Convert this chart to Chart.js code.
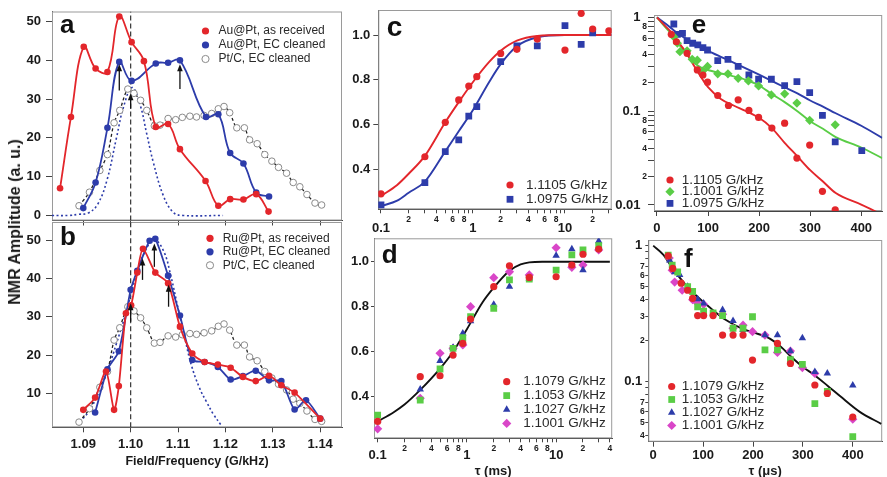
<!DOCTYPE html>
<html>
<head>
<meta charset="utf-8">
<script src="https://cdn.jsdelivr.net/npm/chart.js@4"></script>
<style>
  body { margin: 0; width: 887px; height: 477px; position: relative; overflow: hidden; background: #fff; }
  canvas { position: absolute; }
  #ytitle {
    position: absolute; left: 15px; top: 222px; white-space: nowrap; color: #1a1a1a;
    font: bold 16px "Liberation Sans", Arial, sans-serif;
    transform: translate(-50%, -50%) rotate(-90deg);
  }
</style>
</head>
<body>
<canvas id="pa"></canvas>
<canvas id="pb"></canvas>
<canvas id="pc"></canvas>
<canvas id="pd"></canvas>
<canvas id="pe"></canvas>
<canvas id="pf"></canvas>
<div id="ytitle">NMR Amplitude (a. u.)</div>
<script>
// ---- panel a : Au@Pt spectra ----
const auRecField = [1.0851, 1.0874, 1.0901, 1.0926, 1.0951, 1.0976, 1.1002, 1.1028, 1.1053, 1.1079, 1.1104, 1.1158, 1.1185, 1.1210, 1.1238, 1.1265, 1.1291];
const auRecAmp   = [7.0, 25.4, 43.5, 37.9, 37.0, 51.3, 44.7, 39.8, 22.8, 23.6, 17.1, 8.9, 2.5, 4.2, 4.1, 5.5, 1.0];
const auEcField  = [1.0900, 1.0926, 1.0951, 1.0976, 1.1002, 1.1053, 1.1079, 1.1104, 1.1159, 1.1185, 1.1210, 1.1238, 1.1265, 1.1292];
const auEcAmp    = [1.9, 8.5, 22.6, 39.6, 34.7, 39.2, 39.4, 40.0, 25.4, 26.1, 16.1, 13.4, 5.9, 4.9];

// Pt/C reference (shown in a and b)
const ptcField = [1.0891, 1.0913, 1.0935, 1.0951, 1.0965, 1.0977, 1.0994, 1.1007, 1.1021, 1.1034, 1.1050, 1.1062, 1.1079, 1.1095, 1.1109, 1.1125, 1.1139, 1.1155, 1.1171, 1.1185, 1.1197, 1.1209, 1.1224, 1.1240, 1.1251, 1.1267, 1.1283, 1.1298, 1.1312, 1.1329, 1.1343, 1.1357, 1.1372, 1.1389, 1.1403];
const ptcAmp   = [2.5, 6.0, 11.6, 15.7, 23.9, 27.1, 32.6, 31.5, 29.7, 27.1, 23.1, 23.3, 25.0, 24.7, 25.3, 25.6, 25.4, 25.8, 26.3, 27.5, 28.1, 26.5, 22.6, 22.6, 19.5, 18.5, 15.7, 14.0, 12.4, 10.9, 8.5, 7.4, 5.4, 3.2, 2.7];

// dotted blue curves
const gaussAField = [1.0834, 1.0870, 1.0890, 1.0910, 1.0930, 1.0950, 1.0970, 1.0985, 1.1003, 1.1020, 1.1034, 1.1048, 1.1069, 1.1090, 1.1110, 1.1195];
const gaussAAmp   = [0, 0, 0.3, 0.6, 2.8, 9.1, 20, 28, 33, 28.5, 21, 13.6, 5.1, 0.8, 0, 0];
const gaussBField = [1.0893, 1.0910, 1.0930, 1.0950, 1.0970, 1.0990, 1.1010, 1.1030, 1.1050, 1.1070, 1.1085, 1.1100, 1.1115, 1.1128, 1.1145, 1.1160, 1.1175, 1.1191];
const gaussBAmp   = [2.6, 5, 9.5, 15.5, 23, 31, 40, 47, 50, 47, 40.5, 32.2, 24, 17.4, 11.5, 7.8, 4.5, 1.7];

// ---- panel b : Ru@Pt spectra ----
const ruRecField = [1.0900, 1.0925, 1.0948, 1.0965, 1.0975, 1.0990, 1.1001, 1.1014, 1.1026, 1.1052, 1.1079, 1.1104, 1.1130, 1.1156, 1.1184, 1.1211, 1.1237, 1.1264, 1.1292, 1.1318, 1.1346, 1.1400];
const ruRecAmp   = [5.7, 8.9, 15.7, 5.7, 11.9, 30.9, 33.0, 41.5, 47.7, 41.5, 38.7, 27.4, 20.4, 18.2, 17.5, 16.7, 14.3, 13.2, 14.6, 12.1, 10.2, 3.4];
const ruEcField  = [1.0925, 1.0951, 1.0975, 1.1000, 1.1014, 1.1040, 1.1052, 1.1079, 1.1104, 1.1130, 1.1156, 1.1184, 1.1211, 1.1237, 1.1264, 1.1292, 1.1318, 1.1346, 1.1370, 1.1400];
const ruEcAmp    = [5.0, 16.3, 21.0, 37.0, 42.0, 49.8, 50.3, 40.7, 30.3, 18.7, 18.2, 16.9, 13.6, 14.5, 15.9, 13.4, 13.2, 5.8, 8.2, 3.4];

const refField = 1.10;
// arrows: [field, from, to]
const arrowsA = [[1.0976, 32.2, 39.0], [1.1000, 27.5, 31.5], [1.1104, 32.6, 39.0]];
const arrowsB = [[1.1000, 28.7, 33.5], [1.1025, 39.6, 45.2], [1.1050, 43.0, 49.1], [1.1080, 32.6, 38.3]];

// ---- panel c : recovery, ms ----
const cRedTau  = [0.1, 0.3, 0.5, 0.7, 0.9, 1.1, 2, 3, 5, 10, 15, 20, 30];
const cRed     = [0.290, 0.456, 0.610, 0.710, 0.772, 0.814, 0.918, 0.936, 0.982, 0.933, 1.097, 1.027, 1.019];
const cBlueTau = [0.1, 0.3, 0.5, 0.7, 0.9, 1.1, 2, 3, 5, 10, 15, 20];
const cBlue    = [0.241, 0.340, 0.479, 0.531, 0.638, 0.680, 0.881, 0.952, 0.952, 1.042, 0.958, 1.010];
const cFitTau  = [0.1, 0.15, 0.2, 0.3, 0.5, 0.7, 1, 1.5, 2, 3, 5, 10, 32];
const cFitRed  = [0.28, 0.33, 0.38, 0.46, 0.61, 0.70, 0.79, 0.88, 0.93, 0.975, 0.996, 1.0, 1.0];
const cFitBlue = [0.235, 0.26, 0.295, 0.345, 0.48, 0.57, 0.665, 0.79, 0.87, 0.95, 0.99, 1.0, 1.0];

// ---- panel d ----
const dTau   = [0.1, 0.3, 0.5, 0.7, 0.9, 1.1, 2, 3, 5, 10, 15, 20, 30];
const dRed   = [0.29, 0.489, 0.493, 0.585, 0.637, 0.745, 0.889, 0.982, 0.93, 0.933, 0.985, 1.033, 1.056];
const dGreen = [0.318, 0.385, 0.523, 0.615, 0.662, 0.756, 0.793, 0.919, 0.923, 0.963, 1.030, 1.052, 1.071];
const dBlue  = [0.295, 0.433, 0.559, 0.618, 0.682, 0.736, 0.810, 0.889, 0.926, 1.027, 1.056, 0.963, 1.092];
const dMag   = [0.257, 0.393, 0.593, 0.615, 0.630, 0.800, 0.929, 0.955, 0.941, 1.062, 0.975, 0.985, 1.052];
const dFitTau = [0.1, 0.15, 0.2, 0.3, 0.5, 0.7, 1, 1.5, 2, 3, 4, 5, 7, 10, 20, 40];
const dFit    = [0.29, 0.33, 0.365, 0.43, 0.525, 0.60, 0.70, 0.82, 0.885, 0.96, 0.988, 0.997, 1.0, 1.0, 1.0, 1.0];

// ---- panel e : decay, us ----
const eRedT   = [28, 38, 59, 79, 90, 99, 119, 140, 159, 180, 199, 225, 250, 274, 299, 324, 349];
const eRed    = [0.66, 0.55, 0.414, 0.275, 0.243, 0.204, 0.147, 0.115, 0.132, 0.102, 0.0857, 0.066, 0.0745, 0.0316, 0.0435, 0.0140, 0.0089];
const eGreenT = [33, 40, 45, 59, 69, 79, 90, 99, 119, 139, 159, 179, 199, 224, 250, 274, 299, 349];
const eGreen  = [0.62, 0.53, 0.43, 0.44, 0.357, 0.35, 0.269, 0.30, 0.25, 0.25, 0.224, 0.21, 0.186, 0.149, 0.153, 0.122, 0.080, 0.0716];
const eBlueT  = [33, 40, 50, 59, 70, 80, 90, 99, 119, 139, 159, 180, 199, 224, 250, 274, 299, 324, 349, 401];
const eBlue   = [0.85, 0.66, 0.676, 0.565, 0.53, 0.508, 0.476, 0.449, 0.346, 0.357, 0.30, 0.243, 0.219, 0.219, 0.187, 0.207, 0.158, 0.09, 0.047, 0.038];
const eFitT     = [0, 15, 30, 45, 60, 75, 90, 100, 125, 150, 175, 200, 225, 250, 275, 300, 325, 350, 400, 441];
const eFitRed   = [1, 0.82, 0.675, 0.52, 0.40, 0.29, 0.215, 0.18, 0.135, 0.115, 0.10, 0.085, 0.066, 0.046, 0.033, 0.0235, 0.0178, 0.0134, 0.0101, 0.0079];
const eFitGreen = [1, 0.8, 0.65, 0.5, 0.39, 0.32, 0.285, 0.275, 0.252, 0.235, 0.215, 0.188, 0.152, 0.125, 0.1, 0.078, 0.065, 0.053, 0.041, 0.0316];
const eFitBlue  = [1, 0.87, 0.75, 0.65, 0.58, 0.52, 0.47, 0.44, 0.38, 0.33, 0.285, 0.245, 0.21, 0.18, 0.155, 0.13, 0.112, 0.095, 0.07, 0.052];

// ---- panel f ----
const fRedT   = [30, 39, 56, 69, 79, 89, 101, 120, 139, 160, 180, 199, 249, 275, 324, 349, 400];
const fRed    = [0.84, 0.68, 0.53, 0.47, 0.41, 0.306, 0.306, 0.306, 0.22, 0.22, 0.22, 0.144, 0.191, 0.136, 0.0945, 0.082, 0.055];
const fGreenT = [30, 38, 49, 69, 79, 89, 101, 120, 139, 160, 180, 199, 224, 249, 275, 299, 324, 349, 400];
const fGreen  = [0.85, 0.72, 0.64, 0.5, 0.46, 0.355, 0.33, 0.32, 0.306, 0.247, 0.247, 0.30, 0.171, 0.171, 0.145, 0.134, 0.069, 0.085, 0.0395];
const fBlueT  = [33, 43, 53, 69, 89, 101, 139, 160, 180, 224, 249, 275, 299, 324, 349, 400];
const fBlue   = [0.78, 0.64, 0.61, 0.5, 0.405, 0.377, 0.337, 0.28, 0.24, 0.22, 0.22, 0.168, 0.209, 0.118, 0.115, 0.094];
const fMagT   = [32, 38, 43, 58, 79, 89, 101, 139, 160, 180, 199, 224, 249, 275, 299, 324, 400];
const fMag    = [0.81, 0.66, 0.54, 0.47, 0.40, 0.377, 0.37, 0.313, 0.247, 0.26, 0.233, 0.22, 0.164, 0.168, 0.127, 0.115, 0.053];
const fFitT   = [0, 20, 39, 66, 92, 118, 145, 178, 200, 225, 243, 260, 276, 299, 323, 350, 375, 414, 457];
const fFit    = [1, 0.86, 0.68, 0.51, 0.41, 0.34, 0.285, 0.245, 0.23, 0.215, 0.197, 0.175, 0.153, 0.129, 0.112, 0.093, 0.078, 0.06, 0.049];

// axis ticks
const fieldTicks = [1.09, 1.10, 1.11, 1.12, 1.13, 1.14];
const ampTicksA = [0, 10, 20, 30, 40, 50];
const ampTicksB = [10, 20, 30, 40, 50];
const fracTicks = [0.4, 0.6, 0.8, 1.0];
const usTicks = [0, 100, 200, 300, 400];

const FONT = '"Liberation Sans", Arial, Helvetica, sans-serif';
const RED = '#e3262b', BLUE = '#2d3caa', GREEN = '#5acd46', MAG = '#d946c8', GRAY = '#8a8a8a', INK = '#1a1a1a';
const MARK_R = { circle: 3.6, rect: 4.8, rectRot: 4.6, triangle: 4.3 };
Chart.defaults.font.family = FONT;
Chart.defaults.color = INK;

const pts = (xs, ys) => xs.map((x, i) => ({x, y: ys[i]}));
const mant = v => Math.round(v / Math.pow(10, Math.floor(Math.log10(v) + 1e-9)));
function logTicks(e0, e1) {
  const out = [];
  for (let e = e0; e <= e1; e++) for (let m = 1; m <= 9; m++) out.push(Number((m * Math.pow(10, e)).toPrecision(2)));
  return out;
}

// small decoration plugin: frame, panel letter, inset legend, arrows
const deco = {
  id: 'deco',
  beforeDatasetsDraw(chart) {
    const a = chart.chartArea, ctx = chart.ctx;
    ctx.save();
    ctx.strokeStyle = '#9a9a9a';
    ctx.lineWidth = 1;
    ctx.strokeRect(a.left + 0.5, a.top + 0.5, a.right - a.left - 1, a.bottom - a.top - 1);
    ctx.restore();
  },
  afterDraw(chart, args, o) {
    const ctx = chart.ctx, ox = o.at[0], oy = o.at[1];
    const xs = chart.scales.x, ys = chart.scales.y;
    ctx.save();
    ctx.fillStyle = '#111'; ctx.strokeStyle = '#111'; ctx.lineWidth = 1.3;
    (o.arrows || []).forEach(([xv, y0, y1]) => {
      const px = xs.getPixelForValue(xv), p0 = ys.getPixelForValue(y0), p1 = ys.getPixelForValue(y1);
      ctx.beginPath(); ctx.moveTo(px, p0); ctx.lineTo(px, p1 + 4); ctx.stroke();
      ctx.beginPath(); ctx.moveTo(px, p1); ctx.lineTo(px - 2.8, p1 + 7); ctx.lineTo(px + 2.8, p1 + 7); ctx.closePath(); ctx.fill();
    });
    if (o.letter) {
      ctx.font = `bold ${o.letter[3] || 26}px ${FONT}`;
      ctx.textBaseline = 'alphabetic';
      ctx.fillText(o.letter[0], o.letter[1] - ox, o.letter[2] - oy);
    }
    if (o.legend) {
      const L = o.legend;
      ctx.font = `${L.size}px ${FONT}`;
      ctx.textBaseline = 'middle';
      L.items.forEach((it, i) => {
        const y = L.y0 + i * L.dy - oy;
        ctx.fillStyle = it.open ? '#fff' : it.color;
        ctx.strokeStyle = it.color;
        ctx.lineWidth = 1;
        Chart.helpers.drawPoint(ctx, {pointStyle: it.style, radius: it.r || MARK_R[it.style], borderWidth: it.open ? 1 : 0, rotation: 0}, L.mx - ox, y);
        ctx.fillStyle = '#2a2a2a';
        ctx.fillText(it.label, L.tx - ox, y);
      });
    }
    ctx.restore();
  }
};
Chart.register(deco);

function axis(o) {
  return {
    type: o.log ? 'logarithmic' : 'linear',
    position: o.pos,
    min: o.min, max: o.max,
    afterBuildTicks: s => { s.ticks = o.ticks.map(v => ({value: v})); },
    grid: { display: true, drawOnChartArea: false, drawTicks: true, tickLength: o.tl, color: '#444', lineWidth: 1 },
    border: { display: true, color: '#444', width: 1 },
    ticks: {
      display: o.show !== false, autoSkip: false, maxRotation: 0, minRotation: 0,
      padding: o.pad, color: INK,
      font: o.font || { size: 13, weight: 'bold', lineHeight: 1 },
      callback: o.fmt || (v => String(v))
    },
    title: o.title
      ? { display: true, text: o.title, color: INK, font: { size: o.titleSize || 13, weight: 'bold', lineHeight: 1.2 }, padding: 0 }
      : { display: false }
  };
}

// log-axis labels: bold decade, small digits between
const logXFmt = v => { const m = mant(v); if (m === 1) return ['', String(v)]; return [2, 4, 6, 8].includes(m) ? String(m) : ''; };
const logXFont = lh => c => (c.tick && mant(c.tick.value) === 1)
  ? { size: 13, weight: 'bold', lineHeight: lh } : { size: 8.5, weight: 'bold', lineHeight: 1.2 };
const logYFmt = (set, sp) => v => { const m = mant(v); if (m === 1) return String(v) + sp; return set.includes(m) ? String(m) : ''; };
const logYFont = c => (c.tick && mant(c.tick.value) === 1)
  ? { size: 13, weight: 'bold', lineHeight: 1 } : { size: 8.5, weight: 'bold', lineHeight: 1 };

function panel(id, box, area, scales, datasets, decoOpts) {
  const [cl, ct, cw, ch] = box;
  const [al, at, ar, ab] = area;
  const cv = document.getElementById(id);
  cv.width = cw; cv.height = ch;
  cv.style.left = cl + 'px'; cv.style.top = ct + 'px';
  scales.x.afterFit = s => { s.height = ct + ch - ab; };
  scales.y.afterFit = s => { s.width = al - cl; };
  return new Chart(cv, {
    type: 'scatter',
    data: { datasets },
    options: {
      responsive: false, animation: false, devicePixelRatio: 1,
      layout: { padding: { left: 0, top: at - ct, right: cl + cw - ar, bottom: 0 } },
      scales,
      plugins: { legend: { display: false }, tooltip: { enabled: false }, deco: Object.assign({ at: [cl, ct] }, decoOpts) }
    }
  });
}

const spline = (data, color, t) => ({ data, showLine: true, borderColor: color, borderWidth: 1.8, tension: t,
  pointRadius: 3.3, pointBackgroundColor: color, pointBorderWidth: 0 });
const ptcSet = () => ({ data: pts(ptcField, ptcAmp), showLine: true, borderColor: '#222', borderDash: [3, 2.5], borderWidth: 1.3,
  tension: 0.3, pointRadius: 3.3, pointBackgroundColor: '#fff', pointBorderColor: GRAY, pointBorderWidth: 1 });
const dotted = data => ({ data, showLine: true, borderColor: BLUE, borderDash: [2, 2.5], borderWidth: 1.6, tension: 0.4, pointRadius: 0 });
const vline = (lo, hi) => ({ data: [{x: refField, y: lo}, {x: refField, y: hi}], showLine: true, borderColor: '#333',
  borderDash: [5, 3], borderWidth: 1.2, pointRadius: 0 });
const marks = (data, color, style) => ({ data, showLine: false, pointStyle: style, pointRadius: MARK_R[style],
  pointBackgroundColor: color, pointBorderWidth: 0 });
const fit = (data, color) => ({ data, showLine: true, borderColor: color, borderWidth: 1.9,
  cubicInterpolationMode: 'monotone', pointRadius: 0 });

// ---- a ----
const A_Y = [-1.3, 52.6], B_Y = [1.15, 54.7], F_X = [1.0834, 1.1446];
panel('pa', [0, 0, 350, 232], [52, 10, 342, 222], {
  x: axis({ pos: 'bottom', min: F_X[0], max: F_X[1], ticks: fieldTicks, tl: 5, pad: 2, show: false }),
  y: axis({ pos: 'left', min: A_Y[0], max: A_Y[1], ticks: ampTicksA, tl: 6, pad: 5 })
}, [
  spline(pts(auRecField, auRecAmp), RED, 0.4),
  spline(pts(auEcField, auEcAmp), BLUE, 0.4),
  ptcSet(),
  dotted(pts(gaussAField, gaussAAmp)),
  vline(A_Y[0], A_Y[1])
], {
  letter: ['a', 60, 33],
  arrows: arrowsA,
  legend: { mx: 205.5, tx: 218.5, y0: 31, dy: 14, size: 12, items: [
    { label: 'Au@Pt, as received', color: RED, style: 'circle' },
    { label: 'Au@Pt, EC cleaned', color: BLUE, style: 'circle' },
    { label: 'Pt/C, EC cleaned', color: GRAY, style: 'circle', open: true }
  ] }
});

// ---- b ----
panel('pb', [0, 200, 350, 269], [52, 222, 342, 427.3], {
  x: axis({ pos: 'bottom', min: F_X[0], max: F_X[1], ticks: fieldTicks, tl: 5, pad: 6, fmt: v => v.toFixed(2),
            title: 'Field/Frequency (G/kHz)', titleSize: 12.5 }),
  y: axis({ pos: 'left', min: B_Y[0], max: B_Y[1], ticks: ampTicksB, tl: 6, pad: 5 })
}, [
  spline(pts(ruRecField, ruRecAmp), RED, 0.25),
  spline(pts(ruEcField, ruEcAmp), BLUE, 0.25),
  ptcSet(),
  dotted(pts(gaussBField, gaussBAmp)),
  vline(B_Y[0], B_Y[1])
], {
  letter: ['b', 60, 245],
  arrows: arrowsB,
  legend: { mx: 210, tx: 222.7, y0: 238.3, dy: 13.5, size: 12, items: [
    { label: 'Ru@Pt, as received', color: RED, style: 'circle' },
    { label: 'Ru@Pt, EC cleaned', color: BLUE, style: 'circle' },
    { label: 'Pt/C, EC cleaned', color: GRAY, style: 'circle', open: true }
  ] }
});

// ---- c ----
panel('pc', [345, 0, 272, 240], [378.3, 10, 611.7, 209.3], {
  x: axis({ pos: 'bottom', log: true, min: 0.0935, max: 32.2, ticks: logTicks(-1, 1).filter(v => v <= 32), tl: 4, pad: 1,
            fmt: logXFmt, font: logXFont(0.7) }),
  y: axis({ pos: 'left', min: 0.221, max: 1.112, ticks: fracTicks, tl: 5, pad: 3, fmt: v => v.toFixed(1) })
}, [
  marks(pts(cRedTau, cRed), RED, 'circle'),
  marks(pts(cBlueTau, cBlue), BLUE, 'rect'),
  fit(pts(cFitTau, cFitRed), RED),
  fit(pts(cFitTau, cFitBlue), BLUE)
], {
  letter: ['c', 386.7, 36, 28],
  legend: { mx: 510, tx: 526, y0: 185, dy: 14.3, size: 13.5, items: [
    { label: '1.1105 G/kHz', color: RED, style: 'circle' },
    { label: '1.0975 G/kHz', color: BLUE, style: 'rect' }
  ] }
});

// ---- d ----
panel('pd', [345, 225, 272, 254], [374, 238.3, 615, 438.3], {
  x: axis({ pos: 'bottom', log: true, min: 0.091, max: 42.5, ticks: logTicks(-1, 1).filter(v => v <= 40), tl: 4, pad: 1,
            fmt: logXFmt, font: logXFont(0.6), title: '\u03c4 (ms)' }),
  y: axis({ pos: 'left', min: 0.215, max: 1.104, ticks: fracTicks, tl: 3, pad: 2, fmt: v => v.toFixed(1) })
}, [
  marks(pts(dTau, dRed), RED, 'circle'),
  marks(pts(dTau, dGreen), GREEN, 'rect'),
  marks(pts(dTau, dBlue), BLUE, 'triangle'),
  marks(pts(dTau, dMag), MAG, 'rectRot'),
  fit(pts(dFitTau, dFit), '#111')
], {
  letter: ['d', 381.7, 262.7],
  legend: { mx: 506.7, tx: 523.3, y0: 381.7, dy: 13.9, size: 13.5, items: [
    { label: '1.1079 G/kHz', color: RED, style: 'circle' },
    { label: '1.1053 G/kHz', color: GREEN, style: 'rect' },
    { label: '1.1027 G/kHz', color: BLUE, style: 'triangle' },
    { label: '1.1001 G/kHz', color: MAG, style: 'rectRot' }
  ] }
});

// ---- e ----
panel('pe', [612, 0, 275, 240], [654, 15, 885, 211], {
  x: axis({ pos: 'bottom', min: -5.8, max: 441, ticks: usTicks, tl: 5, pad: 6 }),
  y: axis({ pos: 'left', log: true, min: 0.00863, max: 1.06, ticks: logTicks(-2, -1).concat([1]), tl: 6, pad: 1,
            fmt: logYFmt([2, 4, 6, 8], '\u2002'), font: logYFont })
}, [
  marks(pts(eRedT, eRed), RED, 'circle'),
  marks(pts(eGreenT, eGreen), GREEN, 'rectRot'),
  marks(pts(eBlueT, eBlue), BLUE, 'rect'),
  fit(pts(eFitT, eFitRed), RED),
  fit(pts(eFitT, eFitGreen), GREEN),
  fit(pts(eFitT, eFitBlue), BLUE)
], {
  letter: ['e', 691.7, 33.3],
  legend: { mx: 670, tx: 681.7, y0: 180, dy: 11.7, size: 13.5, items: [
    { label: '1.1105 G/kHz', color: RED, style: 'circle' },
    { label: '1.1001 G/kHz', color: GREEN, style: 'rectRot' },
    { label: '1.0975 G/kHz', color: BLUE, style: 'rect' }
  ] }
});

// ---- f ----
panel('pf', [612, 228, 275, 251], [648.3, 240, 886, 441.7], {
  x: axis({ pos: 'bottom', min: -9.9, max: 459, ticks: usTicks, tl: 5, pad: 2, title: '\u03c4 (\u03bcs)' }),
  y: axis({ pos: 'left', log: true, min: 0.0362, max: 1.10, ticks: logTicks(-2, -1).filter(v => v >= 0.04).concat([1]), tl: 3, pad: 0.5,
            fmt: logYFmt([2, 3, 4, 5, 6, 7], '\u2009'), font: logYFont })
}, [
  marks(pts(fRedT, fRed), RED, 'circle'),
  marks(pts(fGreenT, fGreen), GREEN, 'rect'),
  marks(pts(fBlueT, fBlue), BLUE, 'triangle'),
  marks(pts(fMagT, fMag), MAG, 'rectRot'),
  fit(pts(fFitT, fFit), '#111')
], {
  letter: ['f', 684, 266.7],
  legend: { mx: 671.7, tx: 681.7, y0: 386.5, dy: 13, size: 13.5, items: [
    { label: '1.1079 G/kHz', color: RED, style: 'circle' },
    { label: '1.1053 G/kHz', color: GREEN, style: 'rect' },
    { label: '1.1027 G/kHz', color: BLUE, style: 'triangle' },
    { label: '1.1001 G/kHz', color: MAG, style: 'rectRot' }
  ] }
});
</script>
</body>
</html>
